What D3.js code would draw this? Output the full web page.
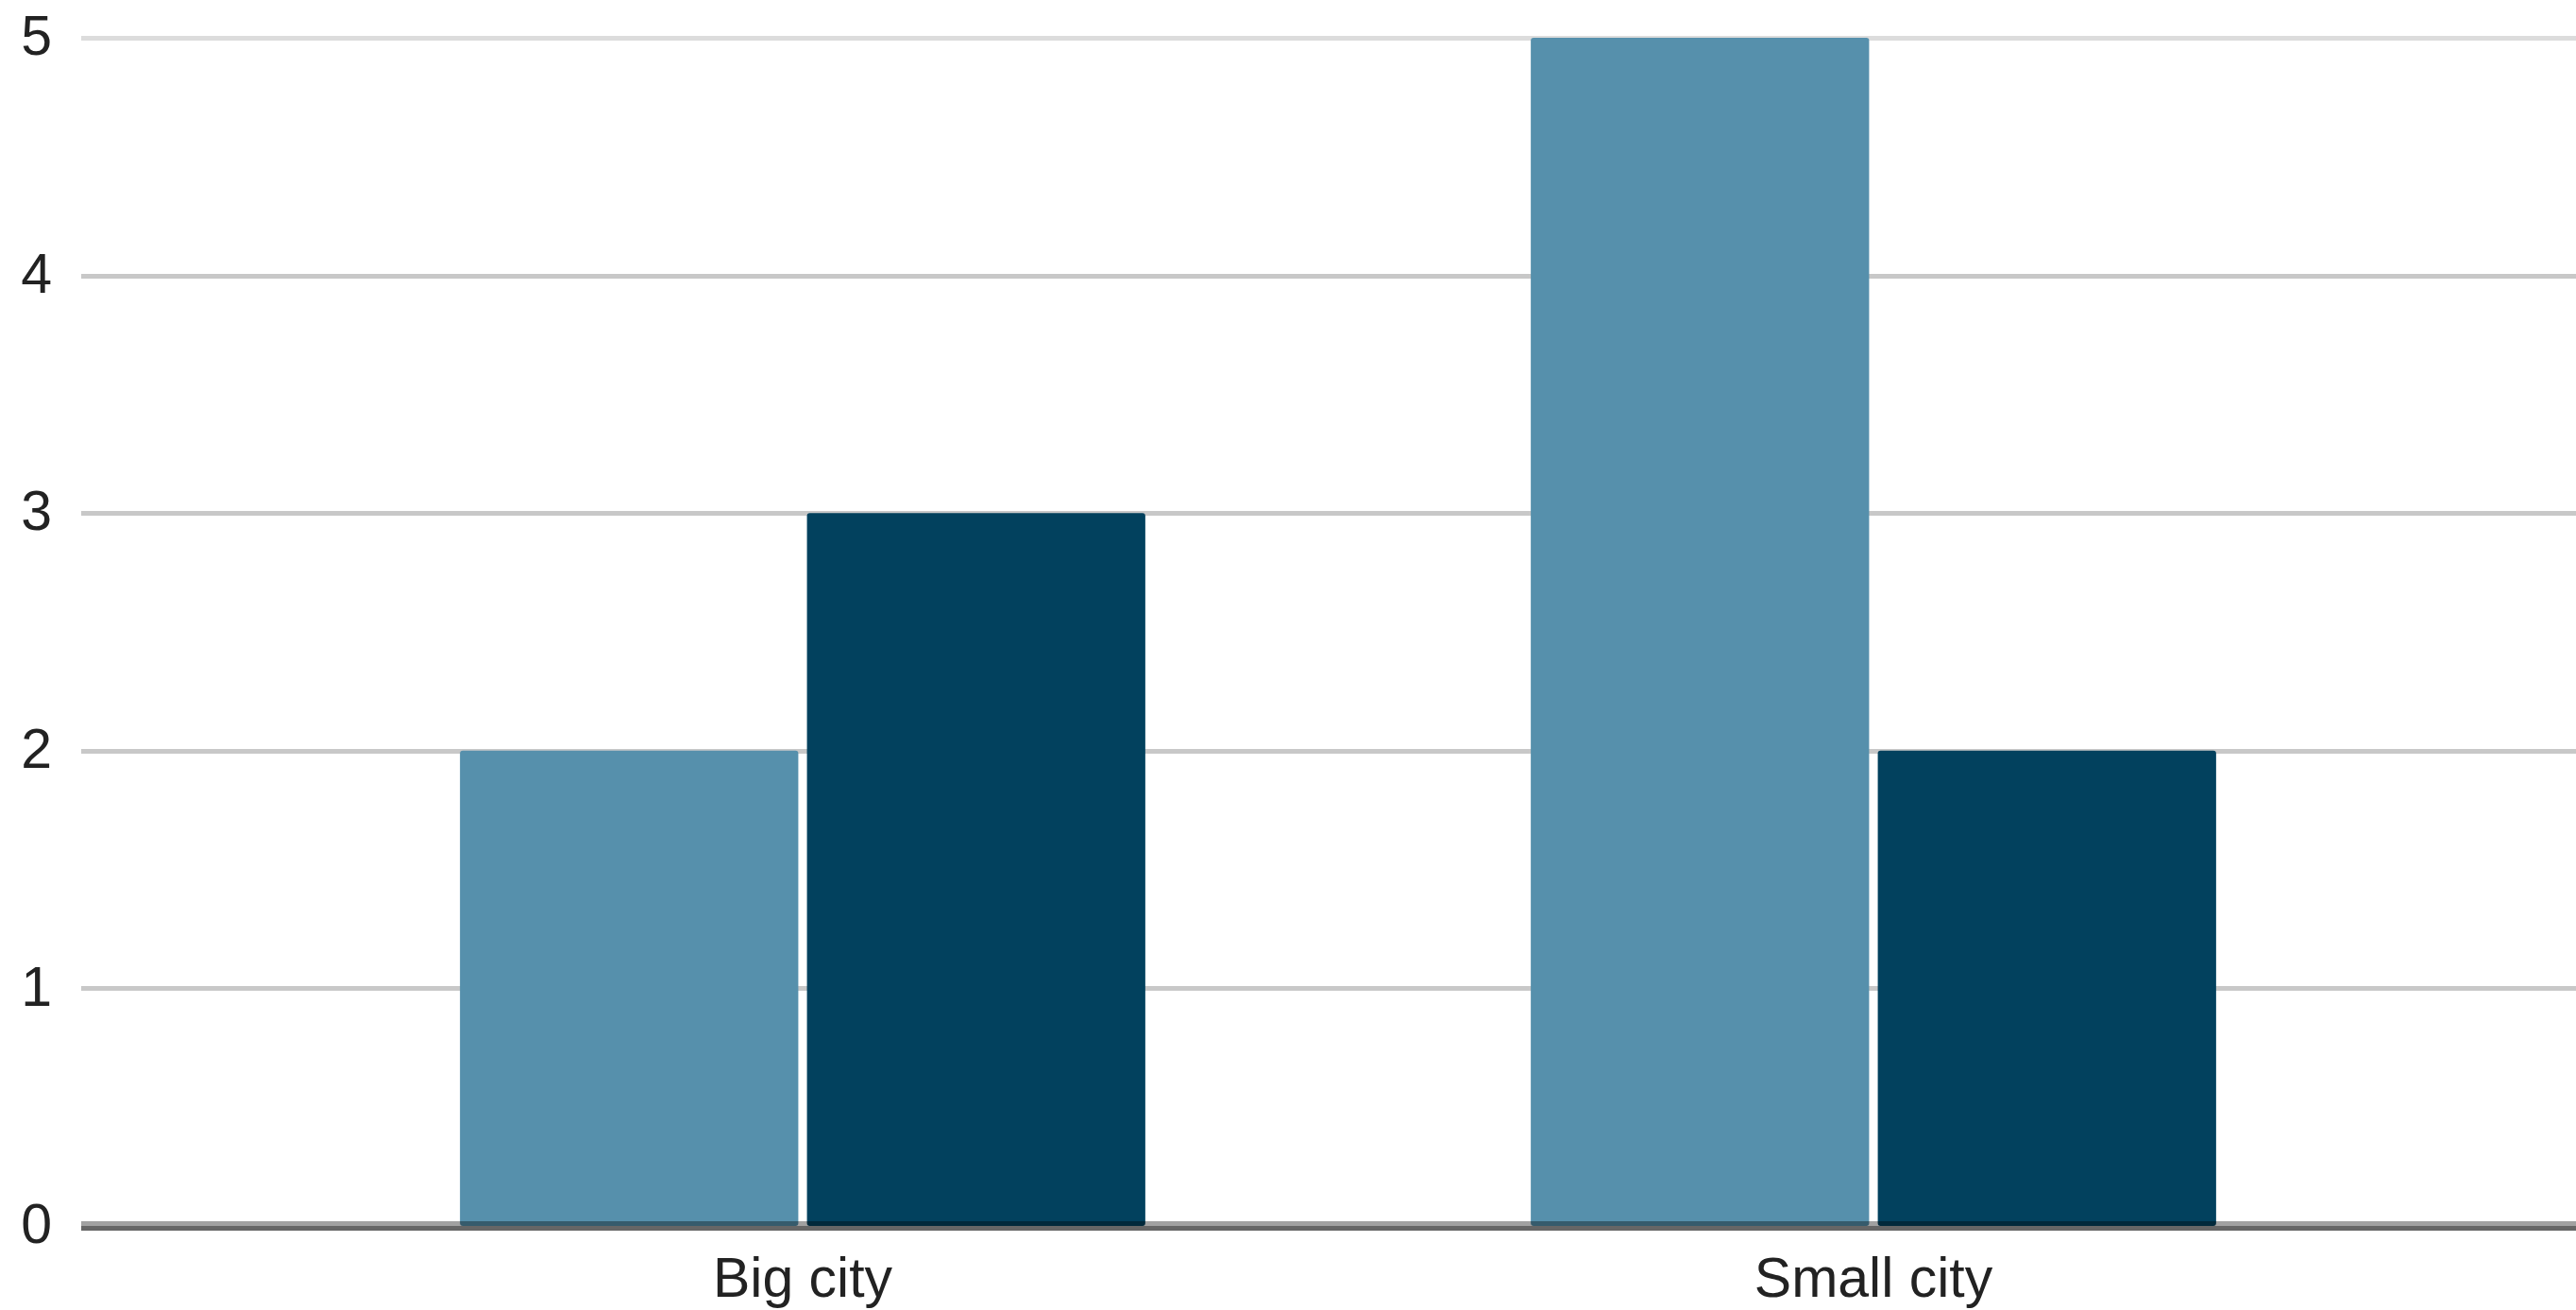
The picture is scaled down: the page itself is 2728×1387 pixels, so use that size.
<!DOCTYPE html>
<html>
<head>
<meta charset="utf-8">
<script src="https://cdn.jsdelivr.net/npm/d3@7"></script>
<style>
  html, body { margin: 0; padding: 0; background: #fff; }
  svg { display: block; }
  text { font-family: "Liberation Sans", Arial, sans-serif; }
</style>
</head>
<body>
<svg id="chart" width="2728" height="1387"></svg>
<script>
const categories = ["Big city", "Small city"];
const seriesNames = ["Series 1", "Series 2"];
const series1 = [2, 5];
const series2 = [3, 2];
const yTicks = [0, 1, 2, 3, 4, 5];
const colors = ["#5690ac", "#02415e"];

const W = 2728, H = 1387;
const plotLeft = 86, plotRight = 2728;
const fontSize = 59;
const svg = d3.select("#chart");

const y = d3.scaleLinear().domain([0, 5]).range([1298, 40]);
const x0 = d3.scaleBand().domain(categories).range([283, 2551]).paddingInner(0.36).paddingOuter(0.18);
const x1 = d3.scaleBand().domain(seriesNames).range([0, x0.bandwidth()]).paddingInner(0.025);
const color = d3.scaleOrdinal().domain(seriesNames).range(colors);

// Y axis with gridlines
const yAxis = svg.append("g")
  .attr("transform", `translate(${plotLeft},0)`)
  .call(d3.axisLeft(y).tickValues(yTicks).tickFormat(d3.format("d")).tickSize(-(plotRight - plotLeft)).tickPadding(31));
yAxis.select(".domain").remove();
yAxis.selectAll(".tick line")
  .attr("stroke", d => d === 5 ? "#dcdcdc" : "#c8c8c8")
  .attr("stroke-width", 5)
  .attr("shape-rendering", "crispEdges");
yAxis.selectAll(".tick line").filter(d => d === 0).remove();
yAxis.selectAll(".tick text")
  .attr("font-size", fontSize)
  .attr("fill", "#222")
  .attr("font-family", "'Liberation Sans', Arial, sans-serif")
  .attr("dy", "0.3em");

// Bars
const rows = categories.map((c, i) => ({ cat: c, values: [series1[i], series2[i]] }));
const groups = svg.append("g").selectAll("g")
  .data(rows).join("g")
  .attr("transform", d => `translate(${x0(d.cat)},0)`);
groups.selectAll("rect")
  .data(d => d.values.map((v, j) => ({ name: seriesNames[j], value: v })))
  .join("rect")
  .attr("x", d => x1(d.name))
  .attr("width", x1.bandwidth())
  .attr("y", d => y(d.value))
  .attr("height", d => y(0) - y(d.value))
  .attr("rx", 3)
  .attr("fill", d => color(d.name));

// Baseline
svg.append("line")
  .attr("x1", plotLeft).attr("x2", plotRight)
  .attr("y1", y(0) - 2.5).attr("y2", y(0) - 2.5)
  .attr("stroke", "rgba(0,0,0,0.37)").attr("stroke-width", 5);
svg.append("line")
  .attr("x1", plotLeft).attr("x2", plotRight)
  .attr("y1", y(0) + 2.5).attr("y2", y(0) + 2.5)
  .attr("stroke", "#666").attr("stroke-width", 5);

// X axis labels
const xAxis = svg.append("g")
  .attr("transform", `translate(0,${y(0)})`)
  .call(d3.axisBottom(x0).tickSize(0).tickPadding(33));
xAxis.select(".domain").remove();
xAxis.selectAll(".tick text")
  .attr("font-size", fontSize)
  .attr("fill", "#222")
  .attr("font-family", "'Liberation Sans', Arial, sans-serif");
</script>
</body>
</html>
